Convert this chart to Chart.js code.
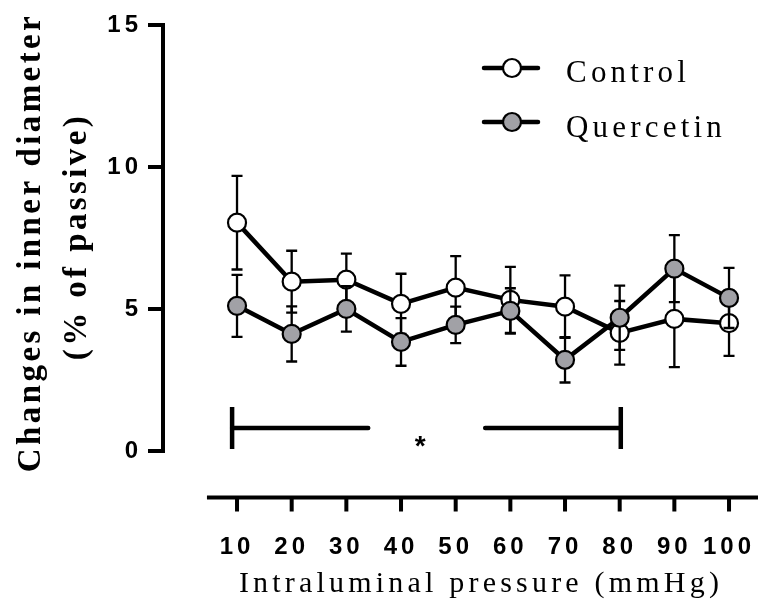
<!DOCTYPE html>
<html>
<head>
<meta charset="utf-8">
<script src="https://cdn.jsdelivr.net/npm/chart.js@4.4.1/dist/chart.umd.min.js"></script>
<style>
  body { margin: 0; background: #fff; }
  #wrap { position: relative; width: 760px; height: 610px; overflow: hidden; }
  #chart { position: absolute; left: 0; top: 0; }
  .txt { position: absolute; white-space: nowrap; color: #000; font-family: "Liberation Serif", "Times New Roman", serif; }
  .ytitle { font-weight: bold; font-size: 33px; line-height: 33px; height: 33px; width: 600px; letter-spacing: 3.4px; text-align: center; transform: rotate(-90deg); }
  .xtitle { font-size: 30px; line-height: 30px; width: 760px; letter-spacing: 4.2px; text-align: center; }
  .legtext { font-size: 31px; line-height: 31px; letter-spacing: 4.2px; }
</style>
</head>
<body>
<div id="wrap">
  <canvas id="chart" width="760" height="610"></canvas>
  <div class="txt ytitle" style="left:-271px; top:225.5px;">Changes in inner diameter</div>
  <div class="txt ytitle" style="left:-225px; top:219.5px;">(% of passive)</div>
  <div class="txt xtitle" style="left:101px; top:567px;">Intraluminal pressure (mmHg)</div>
  <svg style="position:absolute; left:480px; top:50px;" width="64" height="90">
    <line x1="4" y1="18" x2="58" y2="18" stroke="#000" stroke-width="4.5" stroke-linecap="round"/>
    <circle cx="32" cy="18" r="9" fill="#fff" stroke="#000" stroke-width="2.2"/>
    <line x1="4" y1="72" x2="58" y2="72" stroke="#000" stroke-width="4.5" stroke-linecap="round"/>
    <circle cx="32" cy="72" r="9" fill="#a1a1a6" stroke="#000" stroke-width="2.2"/>
  </svg>
  <div class="txt legtext" style="left:566px; top:56px;">Control</div>
  <div class="txt legtext" style="left:566px; top:111px;">Quercetin</div>
</div>
<script>
// data
const pressures = [10, 20, 30, 40, 50, 60, 70, 80, 90, 100];
const controlMean = [8.04, 5.96, 6.03, 5.18, 5.75, 5.32, 5.08, 4.16, 4.65, 4.50];
const controlSem = [1.65, 1.09, 0.92, 1.06, 1.11, 1.16, 1.10, 1.12, 1.70, 1.15];
const quercetinMean = [5.11, 4.12, 5.00, 3.84, 4.44, 4.93, 3.21, 4.69, 6.42, 5.39];
const quercetinSem = [1.09, 0.97, 0.80, 0.84, 0.64, 0.80, 0.80, 1.13, 1.18, 1.06];
const yTicks = [0, 5, 10, 15];
const xTicks = pressures;

// significance bracket (10 - 80 mmHg), in data units
const sigBracket = { from: 9.1, to: 80.2, level: 0.81, low: 0.07, high: 1.55, gapStart: 34, gapEnd: 55.4, starX: 43.5, starY: 0.42 };

// letter spacing for the tick labels only
const tickSpacing = {
    id: 'tickSpacing',
    beforeDraw(chart) { chart.ctx.letterSpacing = '4px'; },
    beforeDatasetsDraw(chart) { chart.ctx.letterSpacing = '0px'; }
};

// prism style detached axes
const axesLines = {
    id: 'axesLines',
    beforeDatasetsDraw(chart) {
        const ctx = chart.ctx, ca = chart.chartArea;
        const xs = chart.scales.x, ys = chart.scales.y;
        ctx.save();
        ctx.strokeStyle = '#000';
        ctx.lineWidth = 4;
        ctx.beginPath();
        ctx.moveTo(ca.left, ys.getPixelForValue(15) - 2);
        ctx.lineTo(ca.left, ys.getPixelForValue(0) + 2);
        yTicks.forEach(v => {
            const p = ys.getPixelForValue(v);
            ctx.moveTo(ca.left - 15, p);
            ctx.lineTo(ca.left, p);
        });
        ctx.moveTo(xs.getPixelForValue(4.5), ca.bottom);
        ctx.lineTo(ca.right, ca.bottom);
        xTicks.forEach(v => {
            const p = xs.getPixelForValue(v);
            ctx.moveTo(p, ca.bottom);
            ctx.lineTo(p, ca.bottom + 14);
        });
        ctx.stroke();
        ctx.restore();
    }
};

// SEM whiskers, drawn under each dataset's line and symbols
const errorBars = {
    id: 'errorBars',
    beforeDatasetDraw(chart, args) {
        const ds = chart.data.datasets[args.index];
        const ys = chart.scales.y, ctx = chart.ctx;
        ctx.save();
        ctx.strokeStyle = '#000';
        ctx.lineWidth = 2.3;
        args.meta.data.forEach((pt, i) => {
            const v = ds.data[i].y, e = ds.sem[i];
            const top = ys.getPixelForValue(v + e), bot = ys.getPixelForValue(v - e);
            ctx.beginPath();
            ctx.moveTo(pt.x, top); ctx.lineTo(pt.x, bot);
            ctx.moveTo(pt.x - 5.5, top); ctx.lineTo(pt.x + 5.5, top);
            ctx.moveTo(pt.x - 5.5, bot); ctx.lineTo(pt.x + 5.5, bot);
            ctx.stroke();
        });
        ctx.restore();
    }
};

const bracket = {
    id: 'bracket',
    afterDatasetsDraw(chart) {
        const ctx = chart.ctx, xs = chart.scales.x, ys = chart.scales.y;
        const b = sigBracket;
        const x1 = xs.getPixelForValue(b.from), x2 = xs.getPixelForValue(b.to);
        const yl = ys.getPixelForValue(b.level);
        ctx.save();
        ctx.strokeStyle = '#000';
        ctx.lineWidth = 4.5;
        ctx.beginPath();
        ctx.moveTo(x1, ys.getPixelForValue(b.high));
        ctx.lineTo(x1, ys.getPixelForValue(b.low));
        ctx.moveTo(x2, ys.getPixelForValue(b.high));
        ctx.lineTo(x2, ys.getPixelForValue(b.low));
        ctx.stroke();
        ctx.lineCap = 'round';
        ctx.beginPath();
        ctx.moveTo(x1, yl); ctx.lineTo(xs.getPixelForValue(b.gapStart), yl);
        ctx.moveTo(xs.getPixelForValue(b.gapEnd), yl); ctx.lineTo(x2, yl);
        ctx.stroke();
        ctx.fillStyle = '#000';
        ctx.font = 'bold 28px "Liberation Sans", Arial, sans-serif';
        ctx.textAlign = 'center';
        ctx.textBaseline = 'alphabetic';
        ctx.fillText('*', xs.getPixelForValue(b.starX), ys.getPixelForValue(b.starY) + 16);
        ctx.restore();
    }
};

const tickFont = { family: '"Liberation Sans", Arial, sans-serif', size: 24, weight: 'bold' };

// fixed axis sizes, no label overflow padding
function noPad(s) {
    s.paddingTop = 0; s.paddingBottom = 0; s.paddingLeft = 0; s.paddingRight = 0;
}

document.addEventListener('DOMContentLoaded', function() {
    const ctx = document.getElementById('chart').getContext('2d');
    new Chart(ctx, {
        type: 'line',
        data: {
            datasets: [{
                label: 'Control',
                data: pressures.map((p, i) => ({ x: p, y: controlMean[i] })),
                sem: controlSem,
                borderColor: '#000',
                borderWidth: 4.5,
                backgroundColor: '#fff',
                pointBackgroundColor: '#fff',
                pointBorderColor: '#000',
                pointBorderWidth: 2.2,
                pointRadius: 9,
                tension: 0,
                order: 1,
                clip: false
            }, {
                label: 'Quercetin',
                data: pressures.map((p, i) => ({ x: p, y: quercetinMean[i] })),
                sem: quercetinSem,
                borderColor: '#000',
                borderWidth: 4.5,
                backgroundColor: '#a1a1a6',
                pointBackgroundColor: '#a1a1a6',
                pointBorderColor: '#000',
                pointBorderWidth: 2.2,
                pointRadius: 9,
                tension: 0,
                order: 0,
                clip: false
            }]
        },
        options: {
            responsive: false,
            animation: false,
            devicePixelRatio: 1,
            events: [],
            layout: { autoPadding: false, padding: { top: 25, right: 2, bottom: 0, left: 0 } },
            plugins: {
                legend: { display: false },
                tooltip: { enabled: false }
            },
            scales: {
                x: {
                    type: 'linear',
                    min: -3.54,
                    max: 105.3,
                    grid: { display: false, drawTicks: false },
                    border: { display: false },
                    afterBuildTicks: s => { s.ticks = xTicks.map(v => ({ value: v })); },
                    afterFit: s => { s.height = 112.5; noPad(s); },
                    ticks: { color: '#000', font: tickFont, padding: 35, maxRotation: 0, autoSkip: false }
                },
                y: {
                    min: -1.64,
                    max: 15,
                    grid: { display: false, drawTicks: false },
                    border: { display: false },
                    afterBuildTicks: s => { s.ticks = yTicks.map(v => ({ value: v })); },
                    afterFit: s => { s.width = 163; noPad(s); },
                    ticks: { color: '#000', font: tickFont, padding: 21 }
                }
            }
        },
        plugins: [tickSpacing, axesLines, errorBars, bracket]
    });
});
</script>
</body>
</html>
